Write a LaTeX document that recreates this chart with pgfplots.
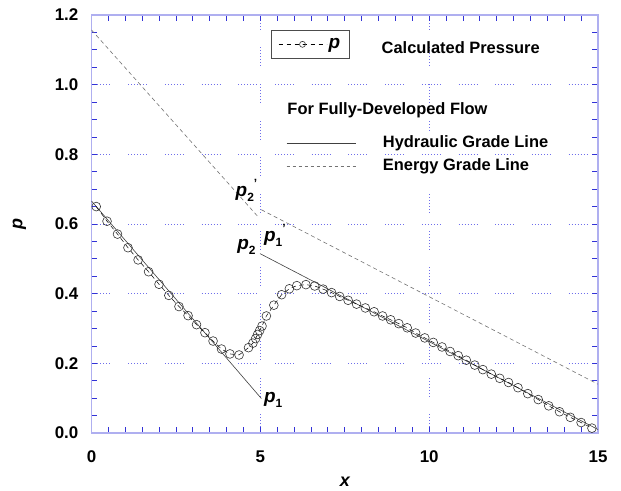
\documentclass[border=0pt]{standalone}
\usepackage{fontspec}
\setmainfont{Liberation Sans}
\usepackage{pgfplots}
\usepackage{pgfplotstable}
\pgfplotsset{compat=1.18}
\definecolor{frameb}{RGB}{175,175,240}
\definecolor{tickb}{RGB}{50,50,215}
\definecolor{gridb}{RGB}{110,110,235}
\newcommand\plab[2]{{\fontsize{19}{19}\selectfont\bfseries\itshape p}\raisebox{-5bp}{\fontsize{12}{12}\selectfont\bfseries #1}#2}
\newcommand\prm{\raisebox{9bp}{\fontsize{12}{12}\selectfont\bfseries '}}
\pgfplotstableread{
x y
0.14 0.650
0.46 0.608
0.77 0.571
1.08 0.532
1.38 0.497
1.69 0.463
2.00 0.427
2.29 0.395
2.59 0.363
2.86 0.337
3.11 0.311
3.36 0.288
3.60 0.264
3.85 0.241
4.10 0.227
4.37 0.224
4.65 0.245
4.78 0.258
4.86 0.271
4.92 0.283
4.98 0.294
5.05 0.307
5.18 0.336
5.40 0.367
5.63 0.397
5.86 0.414
6.08 0.423
6.35 0.426
6.61 0.422
6.86 0.413
7.11 0.403
7.35 0.392
7.60 0.381
7.85 0.370
8.11 0.359
8.37 0.348
8.62 0.336
8.86 0.325
9.10 0.314
9.35 0.302
9.60 0.287
9.87 0.273
10.12 0.260
10.38 0.247
10.62 0.234
10.86 0.222
11.10 0.209
11.35 0.195
11.59 0.182
11.84 0.169
12.09 0.157
12.35 0.145
12.63 0.130
12.92 0.113
13.23 0.096
13.54 0.078
13.86 0.061
14.18 0.045
14.50 0.030
14.82 0.014
}\pressure
\begin{document}
\begin{tikzpicture}
\begin{axis}[
  at={(0,0)}, anchor=south west, scale only axis,
  width=506.5bp, height=418bp,
  xmin=0, xmax=15, ymin=0, ymax=1.2,
  xtick={0,5,10,15}, ytick={0,0.2,0.4,0.6,0.8,1.0,1.2},
  minor x tick num=9, minor y tick num=3,
  tick align=inside, tick pos=both,
  major tick length=6bp, minor tick length=6bp,
  tick style={draw=tickb, line width=0.8bp},
  axis line style={draw=frameb, line width=1.3bp},
  grid=major,
  major grid style={draw=gridb, line width=0.7bp, dash pattern=on 0.7bp off 2.3bp on 0.7bp off 2.3bp on 0.7bp off 2.3bp on 0.7bp off 2.3bp on 0.7bp off 2.3bp on 0.7bp off 2.3bp on 0.7bp off 18bp},
  /pgf/number format/assume math mode=true,
  yticklabel style={/pgf/number format/fixed, /pgf/number format/fixed zerofill, /pgf/number format/precision=1, anchor=east, inner sep=0pt, xshift=-13bp, font=\fontsize{17}{17}\selectfont\bfseries},
  xticklabel style={anchor=center, inner sep=0pt, yshift=-24bp, font=\fontsize{17}{17}\selectfont\bfseries},
  xlabel={x}, ylabel={p},
  xlabel style={at={(axis description cs:0.5,0)}, anchor=center, yshift=-49bp, font=\fontsize{18}{18}\selectfont\bfseries\itshape},
  ylabel style={at={(axis description cs:0,0.5)}, anchor=center, yshift=72bp, font=\fontsize{18}{18}\selectfont\bfseries\itshape},
  legend style={at={(0.354,0.964)}, anchor=north west, draw=black!70, line width=0.9bp, inner xsep=7bp, inner ysep=6bp, fill=white, font=\fontsize{19}{19}\selectfont\bfseries\itshape},
  legend image code/.code={\draw[mark repeat=2,mark phase=2,#1] plot coordinates {(0bp,0bp) (24bp,0bp) (48bp,0bp)};},
  legend image post style={mark size=3bp},
]
% hydraulic grade line
\addplot[forget plot, black!75, line width=0.6bp] coordinates {(0,0.666) (5.03,0.099)};
\addplot[forget plot, black!75, line width=0.6bp] coordinates {(4.99,0.515) (15,0.010)};
% energy grade line
\addplot[forget plot, black!55, line width=0.6bp, dash pattern=on 4bp off 3bp] coordinates {(0,1.157) (4.94,0.620)};
\addplot[forget plot, black!55, line width=0.6bp, dash pattern=on 4bp off 3bp] coordinates {(5.03,0.641) (15,0.140)};
% calculated pressure
\addplot[black, line width=0.5bp, dash pattern=on 4.5bp off 3.5bp, mark=o, mark size=4.4bp, mark options={solid, black!80, line width=0.6bp}] table[x=x, y=y] {\pressure};
\addlegendentry{p}
% annotations
\node[anchor=west, font=\fontsize{16.5}{16.5}\selectfont\bfseries] at (rel axis cs:0.566,0.923) {Calculated Pressure};
\node[anchor=west, font=\fontsize{16.5}{16.5}\selectfont\bfseries] at (rel axis cs:0.380,0.773) {For Fully-Developed Flow};
\draw[black!75, line width=0.6bp] (rel axis cs:0.385,0.694) -- (rel axis cs:0.522,0.694);
\draw[black!55, line width=0.6bp, dash pattern=on 3bp off 3bp] (rel axis cs:0.385,0.639) -- (rel axis cs:0.522,0.639);
\node[anchor=west, fill=white, inner sep=2bp, font=\fontsize{16.5}{16.5}\selectfont\bfseries] at (rel axis cs:0.571,0.694) {Hydraulic Grade Line};
\node[anchor=west, fill=white, inner sep=2bp, font=\fontsize{16.5}{16.5}\selectfont\bfseries] at (rel axis cs:0.571,0.639) {Energy Grade Line};
\node at (axis cs:4.59,0.696) {\plab{2}{\prm}};
\node at (axis cs:5.43,0.567) {\plab{1}{\prm}};
\node at (axis cs:4.59,0.534) {\plab{2}{}};
\node at (axis cs:5.38,0.095) {\plab{1}{}};
\end{axis}
\pgfresetboundingbox
\path[use as bounding box] (-91.5bp,-58bp) rectangle (529.5bp,433bp);
\end{tikzpicture}
\end{document}
